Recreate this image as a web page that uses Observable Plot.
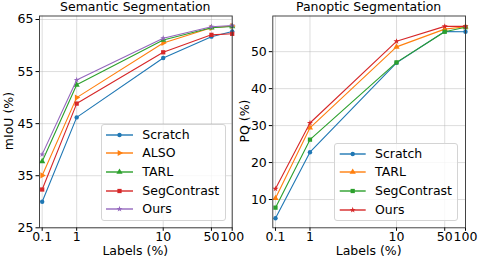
<!DOCTYPE html>
<html><head><meta charset="utf-8">
<script src="https://cdn.jsdelivr.net/npm/d3@7"></script>
<script src="https://cdn.jsdelivr.net/npm/@observablehq/plot@0.6"></script>
<style>
body{margin:0;background:#fff;font-family:"DejaVu Sans",sans-serif;color:#000}
#root{position:relative;width:479px;height:258px;overflow:hidden;background:#fff}
.txt{position:absolute;font-size:12.5px;line-height:12px;white-space:nowrap;text-align:center}
.legend{position:absolute;border:1px solid #d4d4d4;border-radius:3px;background:rgba(255,255,255,0.8);box-sizing:border-box}
.legend .row{position:absolute;left:0;height:16px;font-size:12.5px;line-height:16px;white-space:nowrap}
.legend svg{position:absolute;top:0}
.legend span{position:absolute;top:0}
</style></head><body><div id="root"></div>
<script>
// x values: share of labels (%)
const labels = [0.1, 1, 10, 50, 100];
// Semantic segmentation, mIoU (%)
const semScratch     = [30.0, 46.2, 57.6, 61.7, 62.7];
const semALSO        = [35.05, 50.0, 60.5, 63.4, 63.75];
const semTARL        = [37.75, 52.45, 61.05, 63.4, 63.65];
const semSegContrast = [32.35, 48.85, 58.7, 62.05, 62.25];
const semOurs        = [39.1, 53.4, 61.4, 63.6, 63.85];
// Panoptic segmentation, PQ (%)
const panScratch     = [4.95, 22.8, 47.0, 55.45, 55.4];
const panTARL        = [10.35, 29.4, 51.3, 56.1, 56.75];
const panSegContrast = [7.8, 26.2, 47.1, 55.4, 56.6];
const panOurs        = [12.9, 30.7, 52.8, 56.85, 56.85];
const semTicks = [25, 35, 45, 55, 65];
const panTicks = [10, 20, 30, 40, 50];

const C = {blue:"#1f77b4", orange:"#ff7f0e", green:"#2ca02c", red:"#d62728", purple:"#9467bd"};

const semSeries = [
  {name:"Scratch", values:semScratch, color:C.blue, symbol:"circle", rotate:0, r:2.2},
  {name:"ALSO", values:semALSO, color:C.orange, symbol:"triangle", rotate:90, r:2.3},
  {name:"TARL", values:semTARL, color:C.green, symbol:"triangle", rotate:0, r:2.3},
  {name:"SegContrast", values:semSegContrast, color:C.red, symbol:"square", rotate:0, r:2.4},
  {name:"Ours", values:semOurs, color:C.purple, symbol:"star", rotate:0, r:1.9}
];
const panSeries = [
  {name:"Scratch", values:panScratch, color:C.blue, symbol:"circle", rotate:0, r:2.2},
  {name:"TARL", values:panTARL, color:C.orange, symbol:"triangle", rotate:0, r:2.3},
  {name:"SegContrast", values:panSegContrast, color:C.green, symbol:"square", rotate:0, r:2.4},
  {name:"Ours", values:panOurs, color:C.red, symbol:"star", rotate:0, r:1.9}
];

// matplotlib-style symlog (linthresh 2, linscale 1, base 10)
const symlog = x => Math.abs(x) <= 2 ? x / 0.9 : Math.sign(x) * 2 * (1 / 0.9 + Math.log10(Math.abs(x) / 2));

function panel(series, yDomain, yTicks, width, mL, mR) {
  const marks = [
    Plot.gridX(labels, {stroke:"#b0b0b0", strokeOpacity:0.55, strokeWidth:0.8}),
    Plot.gridY(yTicks, {stroke:"#b0b0b0", strokeOpacity:0.55, strokeWidth:0.8}),
    Plot.axisX(labels, {tickSize:3.5, tickPadding:1, tickFormat:d => String(d), label:null}),
    Plot.axisY(yTicks, {tickSize:3.5, tickPadding:2.5, label:null})
  ];
  for (const s of series) {
    const data = labels.map((l, i) => ({x:l, y:s.values[i]}));
    marks.push(Plot.line(data, {x:"x", y:"y", stroke:s.color, strokeWidth:1.1}));
    marks.push(Plot.dot(data, {x:"x", y:"y", fill:s.color, symbol:s.symbol, r:s.r, rotate:s.rotate}));
  }
  marks.push(Plot.frame({stroke:"#333", strokeWidth:0.9}));
  return Plot.plot({
    width, height:258, marginLeft:mL, marginRight:mR, marginTop:15.5, marginBottom:30.7,
    style:{fontFamily:"DejaVu Sans", fontSize:"12.5px", color:"#000", background:"transparent", overflow:"visible"},
    x:{type:"linear", transform:symlog, domain:[symlog(0.03), symlog(100)], label:null},
    y:{domain:yDomain, label:null},
    marks
  });
}

const root = document.getElementById("root");
function place(el, left, top) { el.style.position = "absolute"; el.style.left = left + "px"; el.style.top = top + "px"; root.appendChild(el); return el; }

place(panel(semSeries, [25, 65.67], semTicks, 240, 39, 8.3), 0, 0);
place(panel(panSeries, [2.35, 59.65], panTicks, 239, 32.3, 14), 240, 0);

function text(str, cx, top, rotate) {
  const d = document.createElement("div");
  d.className = "txt";
  d.textContent = str;
  d.style.width = "200px";
  d.style.left = (cx - 100) + "px";
  d.style.top = top + "px";
  if (rotate) { d.style.transform = "rotate(-90deg)"; }
  root.appendChild(d);
}
text("Semantic Segmentation", 135.3, 1.4);
text("Panoptic Segmentation", 368.6, 1.4);
text("Labels (%)", 135.3, 245.4);
text("Labels (%)", 368.6, 245.4);
// rotated labels: center (cx, cy); baseline ends up ~4.3px right of center
text("mIoU (%)", 8.7, 121.4 - 6, true);
text("PQ (%)", 245.2, 121.4 - 6, true);

function legend(series, left, top, w, h, firstRow, step, lineX0, lineX1, textX) {
  const box = document.createElement("div");
  box.className = "legend";
  Object.assign(box.style, {left:left + "px", top:top + "px", width:w + "px", height:h + "px"});
  series.forEach((s, i) => {
    const row = document.createElement("div");
    row.className = "row";
    row.style.top = (firstRow + step * i - 8) + "px";
    row.style.width = w + "px";
    const svg = d3.create("svg").attr("width", lineX1 + 4).attr("height", 16).style("left", "0px");
    svg.append("line").attr("x1", lineX0).attr("x2", lineX1).attr("y1", 8).attr("y2", 8)
      .attr("stroke", s.color).attr("stroke-width", 1.4);
    const sym = {circle:d3.symbolCircle, triangle:d3.symbolTriangle, square:d3.symbolSquare, star:d3.symbolStar}[s.symbol];
    svg.append("path").attr("d", d3.symbol(sym, Math.PI * s.r * s.r)())
      .attr("fill", s.color)
      .attr("transform", `translate(${(lineX0 + lineX1) / 2},8) rotate(${s.rotate})`);
    row.appendChild(svg.node());
    const sp = document.createElement("span");
    sp.textContent = s.name;
    sp.style.left = textX + "px";
    row.appendChild(sp);
    box.appendChild(row);
  });
  root.appendChild(box);
}
legend(semSeries, 101.3, 124, 124.4, 96.7, 9.7, 18.6, 4, 31, 40);
legend(panSeries, 334.3, 142.7, 124, 78, 10, 18.67, 4.7, 30.7, 39.7);
</script></body></html>
